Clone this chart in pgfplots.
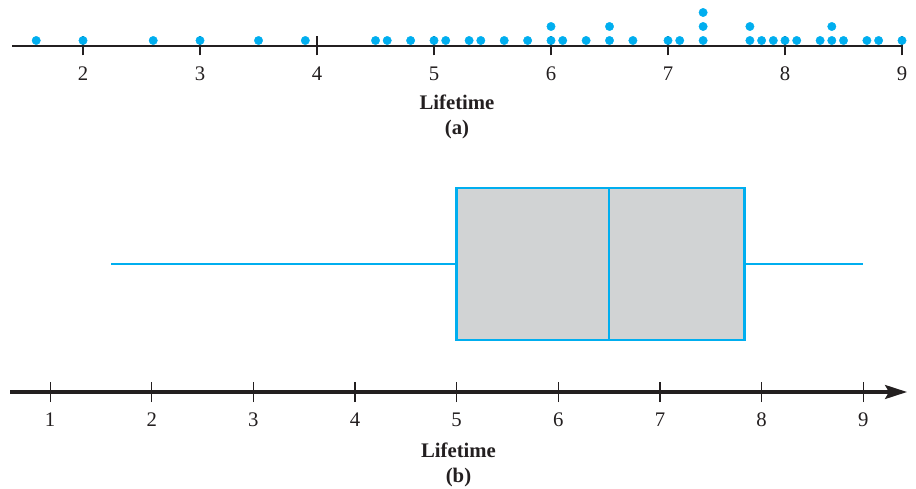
\documentclass[border=0pt]{standalone}
\usepackage{fontspec}
\setmainfont{Liberation Serif}
\usepackage{pgfplots}
\pgfplotsset{compat=1.18}
\usepgfplotslibrary{statistics}
\usetikzlibrary{arrows.meta}
\definecolor{dotcyan}{RGB}{0,174,239}
\definecolor{boxgray}{RGB}{209,211,212}
\definecolor{ink}{RGB}{35,31,32}
\pgfplotstableread{
x y
1.6 5.5
2.0 5.5
2.6 5.5
3.0 5.5
3.5 5.5
3.9 5.5
4.5 5.5
4.6 5.5
4.8 5.5
5.0 5.5
5.1 5.5
5.3 5.5
5.4 5.5
5.6 5.5
5.8 5.5
6.0 5.5
6.0 19.5
6.1 5.5
6.3 5.5
6.5 5.5
6.5 19.5
6.7 5.5
7.0 5.5
7.1 5.5
7.3 5.5
7.3 19.5
7.3 33.5
7.7 5.5
7.7 19.5
7.8 5.5
7.9 5.5
8.0 5.5
8.1 5.5
8.3 5.5
8.4 5.5
8.4 19.5
8.5 5.5
8.7 5.5
8.8 5.5
9.0 5.5
}\dotdata
\begin{document}
\fontsize{20.8}{24}\selectfont
\begin{tikzpicture}
\useasboundingbox (0,0) rectangle (916bp,489bp);
% (a) dot plot
\begin{axis}[
  at={(12bp,443bp)}, anchor=south west,
  scale only axis, width=890bp, height=46bp,
  xmin=1.393, xmax=9.0, ymin=0, ymax=46,
  axis x line=bottom, axis y line=none,
  x axis line style={-, line width=1.3bp, ink},
  xtick={2,...,9},
  tick align=center, major tick length=19bp,
  tick style={line width=1.1bp, ink},
  xticklabel style={yshift=-4bp, text=ink},
  /pgf/number format/assume math mode=true,
  clip=false,
]
\addplot[only marks, mark=*, mark size=4.2bp, dotcyan, mark options={draw=dotcyan, fill=dotcyan}] table[x=x, y=y] {\dotdata};
\node[text=ink, font=\bfseries] at (rel axis cs:0.5,0) [yshift=-56bp] {Lifetime};
\node[text=ink, font=\bfseries] at (rel axis cs:0.5,0) [yshift=-84bp] {(a)};
\end{axis}
% (b) box plot
\begin{axis}[
  at={(10bp,97bp)}, anchor=south west,
  scale only axis, width=897bp, height=222bp,
  xmin=0.606, xmax=9.43, ymin=0, ymax=222,
  axis x line=bottom, axis y line=none,
  x axis line style={-{Stealth[length=22bp,width=14bp,inset=4bp]}, line width=3bp, ink},
  xtick={1,...,9},
  tick align=center, major tick length=20bp,
  tick style={line width=1.1bp, ink},
  xticklabel style={yshift=-4bp, text=ink},
  /pgf/number format/assume math mode=true,
  clip=false,
]
\addplot[boxplot prepared={lower whisker=1.6, lower quartile=5.0, median=6.5, upper quartile=7.83, upper whisker=9.0, draw position=128, box extend=152, whisker extend=0},
  boxplot/draw direction=x, draw=dotcyan, fill=boxgray, line width=2.5bp] coordinates {};
\node[text=ink, font=\bfseries] at (rel axis cs:0.5,0) [yshift=-58bp] {Lifetime};
\node[text=ink, font=\bfseries] at (rel axis cs:0.5,0) [yshift=-86bp] {(b)};
\end{axis}
\end{tikzpicture}
\end{document}
